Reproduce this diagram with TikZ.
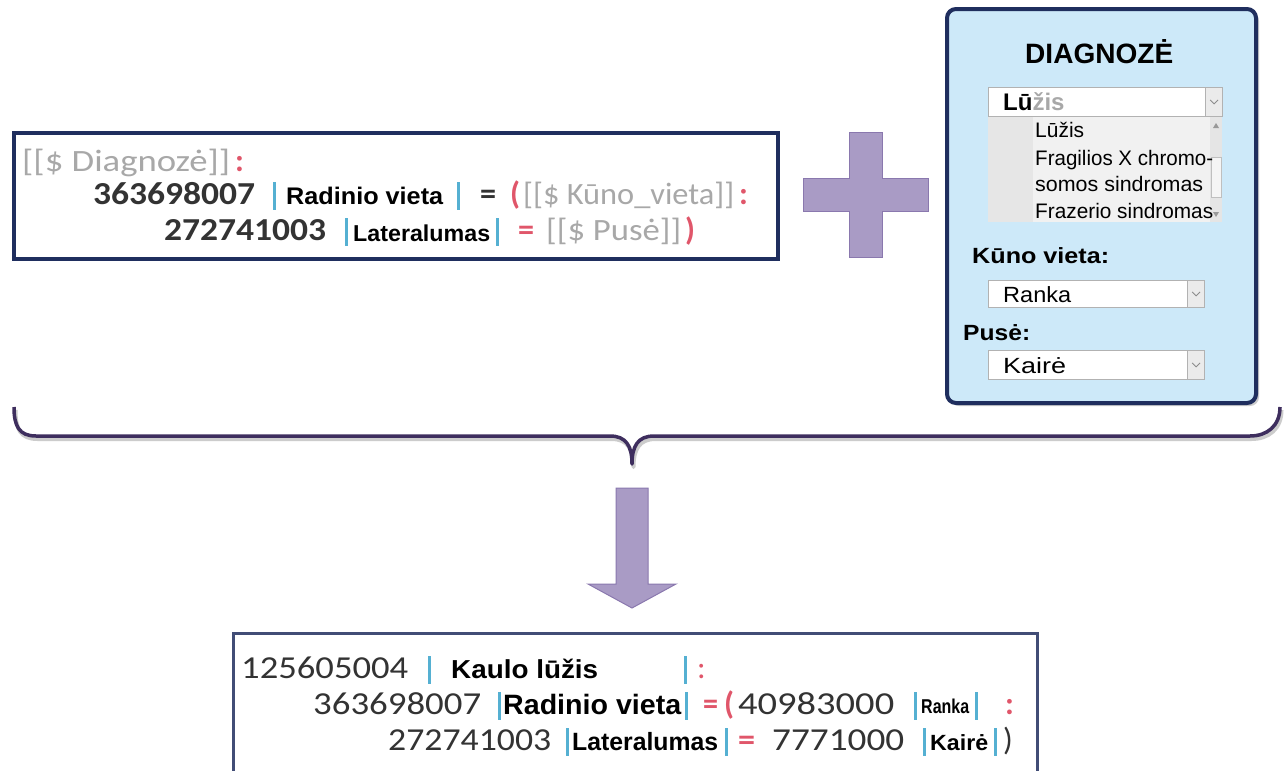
\documentclass[tikz,border=0pt]{standalone}
\usepackage{fontspec}
\usepackage{graphicx}
\usetikzlibrary{calc}
\newfontfamily\calfont{Carlito}
\newfontfamily\arialf{Liberation Sans}
\definecolor{navy}{HTML}{1F2E5E}
\definecolor{barblue}{HTML}{55B0D2}
\definecolor{redc}{HTML}{E0566A}
\definecolor{greyt}{HTML}{A8A8A8}
\definecolor{darkt}{HTML}{333333}
\definecolor{lav}{HTML}{A99BC5}
\definecolor{lavd}{HTML}{8A78AE}
\definecolor{panelbg}{HTML}{CDE9F9}
\definecolor{bracec}{HTML}{3E2E5E}
\definecolor{listbg}{HTML}{F1F1F1}
\definecolor{listcol}{HTML}{E6E6E6}
\newcommand\fnumB{\calfont\bfseries\fontsize{32}{36}\selectfont}
\newcommand\fnum{\calfont\fontsize{32}{36}\selectfont}
\newcommand\fgr{\calfont\fontsize{31}{36}\selectfont}
\newcommand\far[1]{\arialf\fontsize{#1}{#1}\selectfont}
\newcommand\farb[1]{\arialf\bfseries\fontsize{#1}{#1}\selectfont}
\newcommand\rs[2]{\resizebox{#1pt}{\height}{#2}}
\begin{document}
\begin{tikzpicture}[x=1pt,y=-1pt,
  txt/.style={inner sep=0pt,anchor=base west},
  box/.style={draw=navy,line width=3.5pt,fill=white,inner sep=0pt},
  box2/.style={draw=navy!85,line width=2.5pt,fill=white,inner sep=0pt},
  panel/.style={draw=navy,line width=4pt,fill=panelbg,rounded corners=9pt,inner sep=0pt},
  combo/.style={draw=black!30,line width=1pt,fill=white,inner sep=0pt},
  btn/.style={draw=black!30,line width=0.8pt,fill=black!8,inner sep=0pt},
  chev/.style={draw=black!45,line width=0.8pt},
  bigshape/.style={fill=lav,draw=lavd,line width=1pt},
  bar/.style={fill=barblue}]
\clip (0,0) rectangle (1285,771);
\fill[white] (0,0) rectangle (1285,771);

% ---------- top-left box ----------
\fill[black!8] (15,134) rectangle (779,260);
\node[box,anchor=north west,minimum width=764,minimum height=126] (topbox) at (12,131) {};
\node[txt,text=greyt] (a1) at (22,171) {\rs{208}{\fgr [[\$ Diagnozė]]}};
\node[txt,text=redc] (a2) at (235,171) {\fnumB :};
\node[txt,text=darkt] (a3) at (93,204) {\rs{162}{\fnumB 363698007}};
\fill[bar] (272.5,182) rectangle (275.5,210);
\node[txt,text=black] (a4) at (286,204) {\rs{157}{\farb{24}Radinio vieta}};
\fill[bar] (456.5,182) rectangle (459.5,210);
\node[txt,text=darkt] (a5) at (480,204) {\rs{16}{\fnumB =}};
\node[txt,text=redc] (a6) at (510,204) {\fnumB (};
\node[txt,text=greyt] (a7) at (523,204) {\rs{211}{\fgr [[\$ Kūno\_vieta]]}};
\node[txt,text=redc] (a8) at (739,204) {\fnumB :};
\node[txt,text=darkt] (a9) at (164,240) {\rs{162}{\fnumB 272741003}};
\fill[bar] (344.5,218) rectangle (347.5,246);
\node[txt,text=black] (a10) at (353,241) {\rs{137}{\farb{23}Lateralumas}};
\fill[bar] (495.5,218) rectangle (498.5,246);
\node[txt,text=redc] (a11) at (518,240) {\rs{16}{\fnumB =}};
\node[txt,text=greyt] (a12) at (546,240) {\rs{135}{\fgr [[\$ Pusė]]}};
\node[txt,text=redc] (a13) at (685,240) {\fnumB )};

% ---------- plus ----------
\path[bigshape] (849,132) -- (882,132) -- (882,178) -- (928,178) -- (928,211) -- (882,211)
  -- (882,257) -- (849,257) -- (849,211) -- (803,211) -- (803,178) -- (849,178) -- cycle;

% ---------- right panel ----------
\fill[black!20,rounded corners=9pt] (950,12) rectangle (1259,406);
\node[panel,anchor=north west,minimum width=309,minimum height=394] (panel) at (945,7) {};
\node[txt] (title) at (1025,63) {\rs{148}{\farb{28}DIAGNOZĖ}};
% combo 1
\node[combo,anchor=north west,minimum width=234,minimum height=29] (c1) at (988,87) {};
\node[btn,anchor=north east,minimum width=17,minimum height=29] (c1b) at (c1.north east) {};
\draw[chev] ($(c1b.center)+(-4,-2)$) -- ($(c1b.center)+(0,2)$) -- ($(c1b.center)+(4,-2)$);
\node[txt] (c1t) at (1003,110) {\farb{24}Lū{\color{greyt}\far{24}žis}};
% list box
\node[anchor=north west,minimum width=234,minimum height=105,inner sep=0pt,fill=listbg] (lb) at (988,117) {};
\fill[listcol] (988,117) rectangle (1033,222);
\fill[black!10] (1210,117) rectangle (1222,222);
\draw[black!25,fill=black!4] (1211,157) rectangle (1221,197);
\fill[black!40] (1213,128) -- (1219,128) -- (1216,123) -- cycle;
\fill[black!40] (1213,212) -- (1219,212) -- (1216,217) -- cycle;
\node[txt] (l1) at (1035,137) {\far{21}Lūžis};
\node[txt] (l2) at (1035,165) {\rs{178}{\far{21}Fragilios X chromo-}};
\node[txt] (l3) at (1035,191) {\rs{168}{\far{21}somos sindromas}};
\node[txt] (l4) at (1035,218) {\rs{178}{\far{21}Frazerio sindromas}};
% Kuno vieta
\node[txt] (kv) at (972,263) {\rs{137}{\farb{22}Kūno vieta:}};
\node[combo,anchor=north west,minimum width=216,minimum height=27] (c2) at (988,280) {};
\node[btn,anchor=north east,minimum width=17,minimum height=27] (c2b) at (c2.north east) {};
\draw[chev] ($(c2b.center)+(-4,-2)$) -- ($(c2b.center)+(0,2)$) -- ($(c2b.center)+(4,-2)$);
\node[txt] (c2t) at (1003,302) {\rs{68}{\far{22}Ranka}};
% Puse
\node[txt] (ps) at (963,340) {\rs{67}{\farb{22}Pusė:}};
\node[combo,anchor=north west,minimum width=216,minimum height=29] (c3) at (988,350) {};
\node[btn,anchor=north east,minimum width=17,minimum height=29] (c3b) at (c3.north east) {};
\draw[chev] ($(c3b.center)+(-4,-2)$) -- ($(c3b.center)+(0,2)$) -- ($(c3b.center)+(4,-2)$);
\node[txt] (c3t) at (1003,373) {\rs{63}{\far{22}Kairė}};

% ---------- brace ----------
\draw[black!20,line width=4pt,line join=round,xshift=1.5pt,yshift=-3pt]
  (14,407) .. controls (14,426) and (19,436) .. (36,436) -- (610,436)
  .. controls (626,436) and (632,446) .. (632,464) .. controls (632,446) and (638,436) .. (654,436)
  -- (1250,436) .. controls (1267,436) and (1280,426) .. (1280,407);
\draw[bracec,line width=3.5pt,line join=round]
  (14,407) .. controls (14,426) and (19,436) .. (36,436) -- (610,436)
  .. controls (626,436) and (632,446) .. (632,464) .. controls (632,446) and (638,436) .. (654,436)
  -- (1250,436) .. controls (1267,436) and (1280,426) .. (1280,407);

% ---------- down arrow ----------
\path[bigshape] (616,488) -- (648,488) -- (648,584) -- (676,584) -- (632,608) -- (588,584)
  -- (616,584) -- cycle;

% ---------- bottom box ----------
\node[box2,anchor=north west,minimum width=804,minimum height=150] (botbox) at (232,632) {};
\node[txt,text=darkt] (b1) at (241,678) {\rs{167}{\fnum 125605004}};
\fill[bar] (427.5,656) rectangle (430.5,684);
\node[txt,text=black] (b2) at (451,678) {\rs{147}{\farb{26}Kaulo lūžis}};
\fill[bar] (683.5,656) rectangle (686.5,684);
\node[txt,text=redc] (b3) at (697,678) {\fnum :};
\node[txt,text=darkt] (b4) at (313,714) {\rs{168}{\fnum 363698007}};
\fill[bar] (497.5,692) rectangle (500.5,720);
\node[txt,text=black] (b5) at (503,714) {\rs{178}{\farb{28}Radinio vieta}};
\fill[bar] (684.5,692) rectangle (687.5,720);
\node[txt,text=redc] (b6) at (703,714) {\rs{15}{\fnumB =}};
\node[txt,text=redc] (b7) at (724,714) {\fnumB (};
\node[txt,text=darkt] (b8) at (738,714) {\rs{156}{\fnum 40983000}};
\fill[bar] (913.5,692) rectangle (916.5,720);
\node[txt,text=black] (b9) at (921,713) {\rs{48}{\farb{20}Ranka}};
\fill[bar] (974.5,692) rectangle (977.5,720);
\node[txt,text=redc] (b10) at (1005,714) {\fnumB :};
\node[txt,text=darkt] (b11) at (388,750) {\rs{163}{\fnum 272741003}};
\fill[bar] (565.5,728) rectangle (568.5,756);
\node[txt,text=black] (b12) at (572,750) {\rs{146}{\farb{25}Lateralumas}};
\fill[bar] (724.5,728) rectangle (727.5,756);
\node[txt,text=redc] (b13) at (738,750) {\rs{17}{\fnumB =}};
\node[txt,text=darkt] (b14) at (772,750) {\rs{132}{\fnum 7771000}};
\fill[bar] (922.5,728) rectangle (925.5,756);
\node[txt,text=black] (b15) at (930,750) {\rs{58}{\farb{22}Kairė}};
\fill[bar] (993.5,728) rectangle (996.5,756);
\node[txt,text=darkt] (b16) at (1003,750) {\fnum )};
\end{tikzpicture}
\end{document}
